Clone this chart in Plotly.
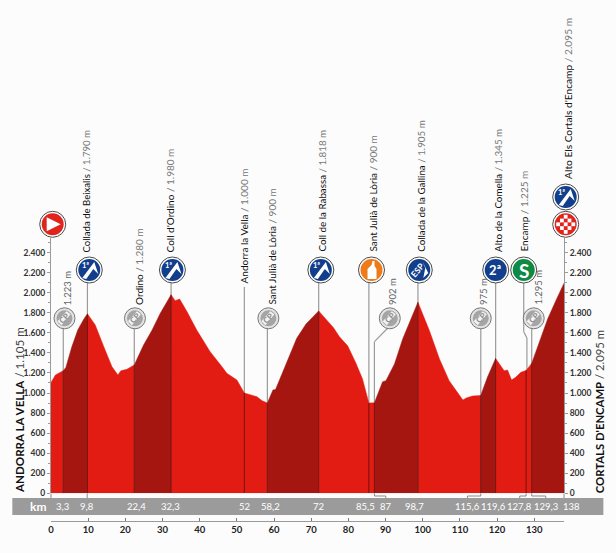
import plotly.graph_objects as go

W, H = 616, 553

# perfil
km = [0, 1.2, 3.3, 4, 5.6, 7.2, 8.8, 9.8, 11.9, 14.2, 16.4, 18, 18.8, 20.4, 22.4, 24.9, 27.2, 29.4, 32.3, 33.4,
      34.6, 36.6, 39.2, 42.8, 46, 47.3, 50, 52, 55.4, 56.7, 58.2, 59.7, 60.4, 63.4, 66.1, 68.6, 72, 75, 76, 77.6,
      79.8, 82, 83.8, 85.5, 87, 89.2, 90.1, 92.4, 94.6, 98.7, 101.8, 104.5, 107.1, 110.8, 111.7, 113.4, 115.6,
      117.4, 119.6, 121, 121.9, 122.8, 123.9, 125, 126.4, 127.8, 129.3, 131.4, 133.6, 135.8, 138]
elev = [1105, 1180, 1223, 1255, 1460, 1628, 1735, 1790, 1678, 1462, 1262, 1180, 1222, 1236, 1280, 1478, 1628, 1794,
        1980, 1920, 1937, 1810, 1628, 1412, 1262, 1196, 1130, 1000, 963, 924, 900, 1030, 1035, 1295, 1545, 1688,
        1818, 1690, 1650, 1560, 1470, 1300, 1140, 900, 902, 1113, 1123, 1289, 1538, 1905, 1621, 1339, 1123, 930,
        950, 970, 975, 1156, 1345, 1272, 1222, 1229, 1130, 1156, 1206, 1225, 1295, 1505, 1737, 1920, 2095]

climbs = [(3.3, 9.8), (22.4, 32.3), (58.2, 72), (87, 98.7), (115.6, 119.6), (129.3, 138)]
flats = [(0, 3.3), (9.8, 22.4), (32.3, 58.2), (72, 87), (98.7, 115.6), (119.6, 129.3)]

marker_km = [3.3, 9.8, 22.4, 32.3, 52, 58.2, 72, 85.5, 87, 98.7, 115.6, 119.6, 127.8, 129.3, 138]
marker_labels = ['3,3', '9,8', '22,4', '32,3', '52', '58,2', '72', '85,5', '87', '98,7',
                 '115,6', '119,6', '127,8', '129,3', '138']
label_px = [62.7, 87, 137, 171, 244.5, 270.7, 318.7, 366, 386, 415, 467.7, 493.7, 520, 546, 571.7]

# nombre, altura, x del texto, y inferior del texto
climb_names = ['Collada de Beixalis', 'Ordino', "Coll d'Ordino", 'Andorra la Vella', 'Sant Julià de Lòria',
               'Coll de la Rabassa', 'Sant Julià de Lòria', 'Collada de la Gallina', 'Alto de la Comella',
               'Encamp', "Alto Els Cortals d'Encamp"]
climb_alts = ['1.790 m', '1.280 m', '1.980 m', '1.000 m', '900 m', '1.818 m', '900 m', '1.905 m', '1.345 m',
              '1.225 m', '2.095 m']
name_x = [87, 138.5, 170.5, 244, 271.7, 321.7, 372.7, 421, 497.7, 523.3, 567.7]
name_y = [252, 305, 252, 283, 305, 252, 252, 252, 252, 252, 179]
name_size = [9.6, 10, 10, 10, 10, 9.8, 10, 9.8, 9.8, 10, 10.2]

cp_km = [3.3, 22.4, 58.2, 87, 115.6, 129.3]
cp_alts = ['1.223 m', '', '', '902 m', '975 m', '1.295 m']
cp_x = [64.5, 135, 268.5, 390, 481, 534]
cp_text_x = [68, 0, 0, 392.7, 483.7, 538.3]

RED = '#e21c12'
DARK = '#a51610'
GREY = '#9a9a9a'
BG = '#fcfcfc'

ml, mr, mt, mb = 51, W - 564.3, 238, H - 521
y_zero_px = 493.3
px_per_m = 0.1003
y_top = (y_zero_px - mt) / px_per_m


def xp(x):
    return (x - ml) / (W - ml - mr)


def yp(y):
    return (H - mb - y) / (H - mt - mb)


def circle(cx, cy, r, fill, line='rgba(0,0,0,0)', width=0):
    return dict(type='circle', xref='paper', yref='paper', x0=xp(cx - r), x1=xp(cx + r), y0=yp(cy + r), y1=yp(cy - r),
                fillcolor=fill, line=dict(color=line, width=width), layer='above')


def poly(cx, cy, pts, fill):
    path = 'M' + ' L'.join(f'{xp(cx + a):.5f},{yp(cy + b):.5f}' for a, b in pts) + ' Z'
    return dict(type='path', xref='paper', yref='paper', path=path, fillcolor=fill, line=dict(width=0), layer='above')


def segment(x0, y0, x1, y1, color=GREY, width=1.2):
    return dict(type='line', xref='paper', yref='paper', x0=xp(x0), x1=xp(x1), y0=yp(y0), y1=yp(y1),
                line=dict(color=color, width=width), layer='below')


def text(x, y, s, size, color='#222', angle=0, xanchor='center', yanchor='middle'):
    return dict(x=xp(x), y=yp(y), xref='paper', yref='paper', text=s, showarrow=False, textangle=angle,
                font=dict(size=size, color=color, family='Lato'), xanchor=xanchor, yanchor=yanchor,
                borderpad=0, borderwidth=0)


def badge(cx, cy, fill, r=13):
    return [circle(cx, cy, r, '#ffffff', '#4a4a4a', 1), circle(cx, cy, r - 2, fill)]


fig = go.Figure()


def add_section(a, b, color):
    xs = [k for k in km if a <= k <= b]
    ys = [e for k, e in zip(km, elev) if a <= k <= b]
    fig.add_trace(go.Scatter(x=xs, y=ys, mode='lines', fill='tozeroy', fillcolor=color,
                             line=dict(width=0.5, color=color), hoverinfo='skip', showlegend=False))


for a, b in flats:
    add_section(a, b, RED)
for a, b in climbs:
    add_section(a, b, DARK)

# lineas dentro del perfil
for k in marker_km[:-1]:
    fig.add_trace(go.Scatter(x=[k, k], y=[0, elev[km.index(k)]], mode='lines', line=dict(color='#6e1410', width=1),
                             hoverinfo='skip', showlegend=False))

# eje derecho, solo para las marcas
fig.add_trace(go.Scatter(x=[0], y=[0], yaxis='y2', mode='none', hoverinfo='skip', showlegend=False))

shapes = []
annotations = []

# banda de km
shapes.append(dict(type='rect', xref='paper', yref='paper', x0=xp(12.3), x1=xp(603.7), y0=yp(515), y1=yp(498),
                   fillcolor='#9b9b9b', line=dict(width=0), layer='below'))
annotations.append(text(37.7, 506.5, '<b>km</b>', 12, '#ffffff'))
for s, x in zip(marker_labels, label_px):
    annotations.append(text(x, 506.5, s, 9.5, '#ffffff'))

# corchetes de las etiquetas desplazadas
for k, x in [(87, 386), (115.6, 467.7), (127.8, 520), (129.3, 546)]:
    kx = ml + k * 3.72
    shapes += [segment(kx, 493.5, kx, 496, '#8a8a8a', 1), segment(kx, 496, x, 496, '#8a8a8a', 1),
               segment(x, 496, x, 498, '#8a8a8a', 1)]
shapes.append(segment(ml, 493.5, ml, 498, '#8a8a8a', 1))
shapes.append(segment(87.2, 493.5, 87.2, 498, '#8a8a8a', 1))
shapes.append(segment(564.3, 493.5, 564.3, 498, '#8a8a8a', 1))

# palos sobre el perfil
stems = [(9.8, 283), (22.4, 318), (32.3, 283), (52, 287), (58.2, 318), (72, 283), (85.5, 283), (98.7, 283),
         (119.6, 283), (3.3, 318), (115.6, 318), (129.3, 318)]
for k, top in stems:
    x = ml + k * 3.72
    bottom = y_zero_px - elev[km.index(k)] * px_per_m
    shapes.append(segment(x, top, x, bottom))
shapes += [segment(374.6, 341.7, 374.6, 493 - 902 * px_per_m), segment(374.6, 341.7, 390, 326),
           segment(524, 283, 524, 331.7), segment(524, 331.7, 527.2, 338), segment(527.2, 338, 527.2, 370)]

# CP
for x, alt, tx in zip(cp_x, cp_alts, cp_text_x):
    shapes += [circle(x, 318.3, 10.5, '#e4e4e4', '#777777', 1), circle(x, 318.3, 8, '#a5a5a5')]
    shapes.append(poly(x, 318.3, [(-7, 3), (2, -7), (6, -4), (-3, 7)], '#f3f3f3'))
    annotations.append(text(x, 318.3, '<b>CP</b>', 8, '#8a8a8a', angle=-45))
    if alt:
        annotations.append(text(tx, 305, alt, 9.5, '#666666', angle=-90, yanchor='bottom'))

# puertos de montaña
mountain = [(-7, 8), (5, -8), (9, 4), (4, -1), (-3, 9)]
for cx in [89.3, 172.5, 321]:
    shapes += badge(cx, 270, '#123f8c')
    shapes.append(poly(cx, 270, mountain, '#ffffff'))
    annotations.append(text(cx - 4, 265, '<b>1ª</b>', 7.5, '#ffffff'))
shapes += badge(566, 197, '#123f8c')
shapes.append(poly(566, 197, mountain, '#ffffff'))
annotations.append(text(562, 192, '<b>1ª</b>', 7.5, '#ffffff'))

shapes += badge(419.5, 270, '#123f8c')
shapes.append(poly(419.5, 270, [(3, -9), (9, 3), (4, 8), (6, -2)], '#ffffff'))
annotations.append(text(418, 270, '<b>ESP</b>', 8.5, '#ffffff', angle=-50))

shapes += badge(496, 270, '#123f8c')
annotations.append(text(496, 270, '<b>2ª</b>', 13, '#ffffff'))

shapes += badge(524, 270, '#0f8a45')
annotations.append(text(524, 270, '<b>S</b>', 19, '#ffffff'))

shapes += badge(371.7, 270, '#ee7a1a')
shapes.append(poly(371.7, 270, [(-4, 9), (-4, -1), (0, -5), (1, -9), (3, -9), (3, -4), (5, -1), (5, 9)], '#ffffff'))

# salida
shapes += badge(52.7, 224.3, '#e0231b')
shapes.append(poly(52.7, 224.3, [(-6, -7), (8, 0), (-6, 7)], '#ffffff'))

# meta
shapes += badge(566, 224.3, '#e0231b')
for i in range(-2, 3):
    for j in range(-2, 3):
        if (i + j) % 2 == 0 and (abs(i) + abs(j)) < 4:
            shapes.append(poly(566 + i * 3.8, 224.3 + j * 3.8, [(-1.9, -1.9), (1.9, -1.9), (1.9, 1.9), (-1.9, 1.9)], '#ffffff'))

# nombres
for name, alt, x, y, size in zip(climb_names, climb_alts, name_x, name_y, name_size):
    s = f'{name} <span style="color:#777777">/ {alt}</span>'
    annotations.append(text(x, y, s, size, '#111111', angle=-90, yanchor='bottom'))

annotations.append(text(19.3, 492.7, '<b>ANDORRA LA VELLA</b> <span style="color:#444444">/ 1.105 m</span>', 11.6,
                        '#111111', angle=-90, yanchor='bottom'))
annotations.append(text(599.3, 492.7, '<b>CORTALS D\'ENCAMP</b> <span style="color:#444444">/ 2.095 m</span>', 11.3,
                        '#111111', angle=-90, yanchor='bottom'))

ytick_font = dict(family='Lato', size=8.5, color='#333333', weight='bold')
yaxis_style = dict(range=[0, y_top], domain=[(H - mb - y_zero_px) / (H - mb - mt), 1], showgrid=False,
                   zeroline=False, showline=True, linecolor=GREY, linewidth=1, ticks='outside', ticklen=3,
                   tickcolor=GREY, tick0=0, dtick=200, tickformat=',d', tickfont=ytick_font,
                   minor=dict(dtick=100, ticks='outside', ticklen=2, tickcolor=GREY))

fig.update_layout(
    width=W, height=H, margin=dict(l=ml, r=mr, t=mt, b=mb, pad=0, autoexpand=False),
    paper_bgcolor=BG, plot_bgcolor=BG, separators=',.', showlegend=False,
    xaxis=dict(range=[0, 138], anchor='free', position=0, showgrid=False, zeroline=False, showline=True,
               linecolor=GREY, linewidth=1, ticks='inside', ticklen=3, tickcolor='#777777',
               tickvals=list(range(0, 131, 10)) + [138], ticktext=[str(v) for v in range(0, 131, 10)] + [''],
               tickfont=dict(family='Lato', size=9.5, color='#222222', weight='bold'), tickangle=0),
    yaxis=dict(anchor='x', side='left', **yaxis_style),
    yaxis2=dict(overlaying='y', anchor='x', side='right', **yaxis_style),
    shapes=shapes, annotations=annotations,
)

fig.write_html("out.html", config=dict(displayModeBar=False),
               post_script="document.body.style.margin='0';document.body.style.background='#fcfcfc';")
